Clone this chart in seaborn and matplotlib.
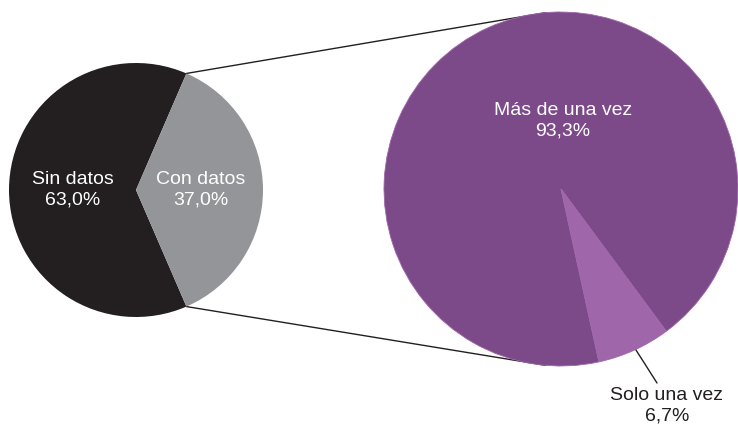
import numpy as np
import matplotlib
matplotlib.use("Agg")
import matplotlib.pyplot as plt
import seaborn as sns

# Data
main_labels = ["Sin datos", "Con datos"]
main_values = [63.0, 37.0]
main_colors = ["#231f20", "#939598"]

sub_labels = ["Más de una vez", "Solo una vez"]
sub_values = [93.3, 6.7]
sub_colors = ["#7d4a89", "#a066aa"]

def fmt(v):
    return f"{v:.1f}%".replace(".", ",")

sns.set_theme(style="white")
plt.rcParams["font.family"] = ["Liberation Sans", "DejaVu Sans"]

W, H = 738, 426
fig = plt.figure(figsize=(W / 100, H / 100), dpi=100)
ax = fig.add_axes([0, 0, 1, 1])

# Left pie
lc, lr = (136, 236), 127
l_start = 360 * main_values[1] / 100 / 2
ax.pie(main_values, colors=main_colors, startangle=l_start, counterclock=True,
       center=lc, radius=lr, frame=True, wedgeprops=dict(linewidth=0))

# Right pie
rc, rr = (561, 237), 177
r_start = -53.5
ax.pie(sub_values, colors=sub_colors, startangle=r_start, counterclock=True,
       center=rc, radius=rr, frame=True,
       wedgeprops=dict(linewidth=0.6, edgecolor=sub_colors[1]))
ax.set_xlim(0, W)
ax.set_ylim(0, H)
ax.set_aspect("equal")
ax.axis("off")

# Connector lines
a = np.deg2rad(l_start)
b = np.deg2rad(95)
for s in (1, -1):
    x0 = lc[0] + lr * np.cos(a)
    y0 = lc[1] + s * lr * np.sin(a)
    x1 = rc[0] + rr * np.cos(b)
    y1 = rc[1] + s * rr * np.sin(b)
    ax.plot([x0, x1], [y0, y1], color="#231f20", lw=1.0, zorder=0)

fs = 14
ls = 1.3
ax.text(73, 236, f"{main_labels[0]}\n{fmt(main_values[0])}", color="white",
        ha="center", va="center", fontsize=fs, linespacing=ls)
ax.text(201, 236, f"{main_labels[1]}\n{fmt(main_values[1])}", color="white",
        ha="center", va="center", fontsize=fs, linespacing=ls)
ax.text(563, 305, f"{sub_labels[0]}\n{fmt(sub_values[0])}", color="white",
        ha="center", va="center", fontsize=fs, linespacing=ls)

# Leader line for small slice
ax.plot([636, 657], [426 - 350, 426 - 383], color="#231f20", lw=1.0)
ax.text(667, 20, f"{sub_labels[1]}\n{fmt(sub_values[1])}", color="#231f20",
        ha="center", va="center", fontsize=fs, linespacing=ls)

fig.savefig("out.png", dpi=100, facecolor="white")
